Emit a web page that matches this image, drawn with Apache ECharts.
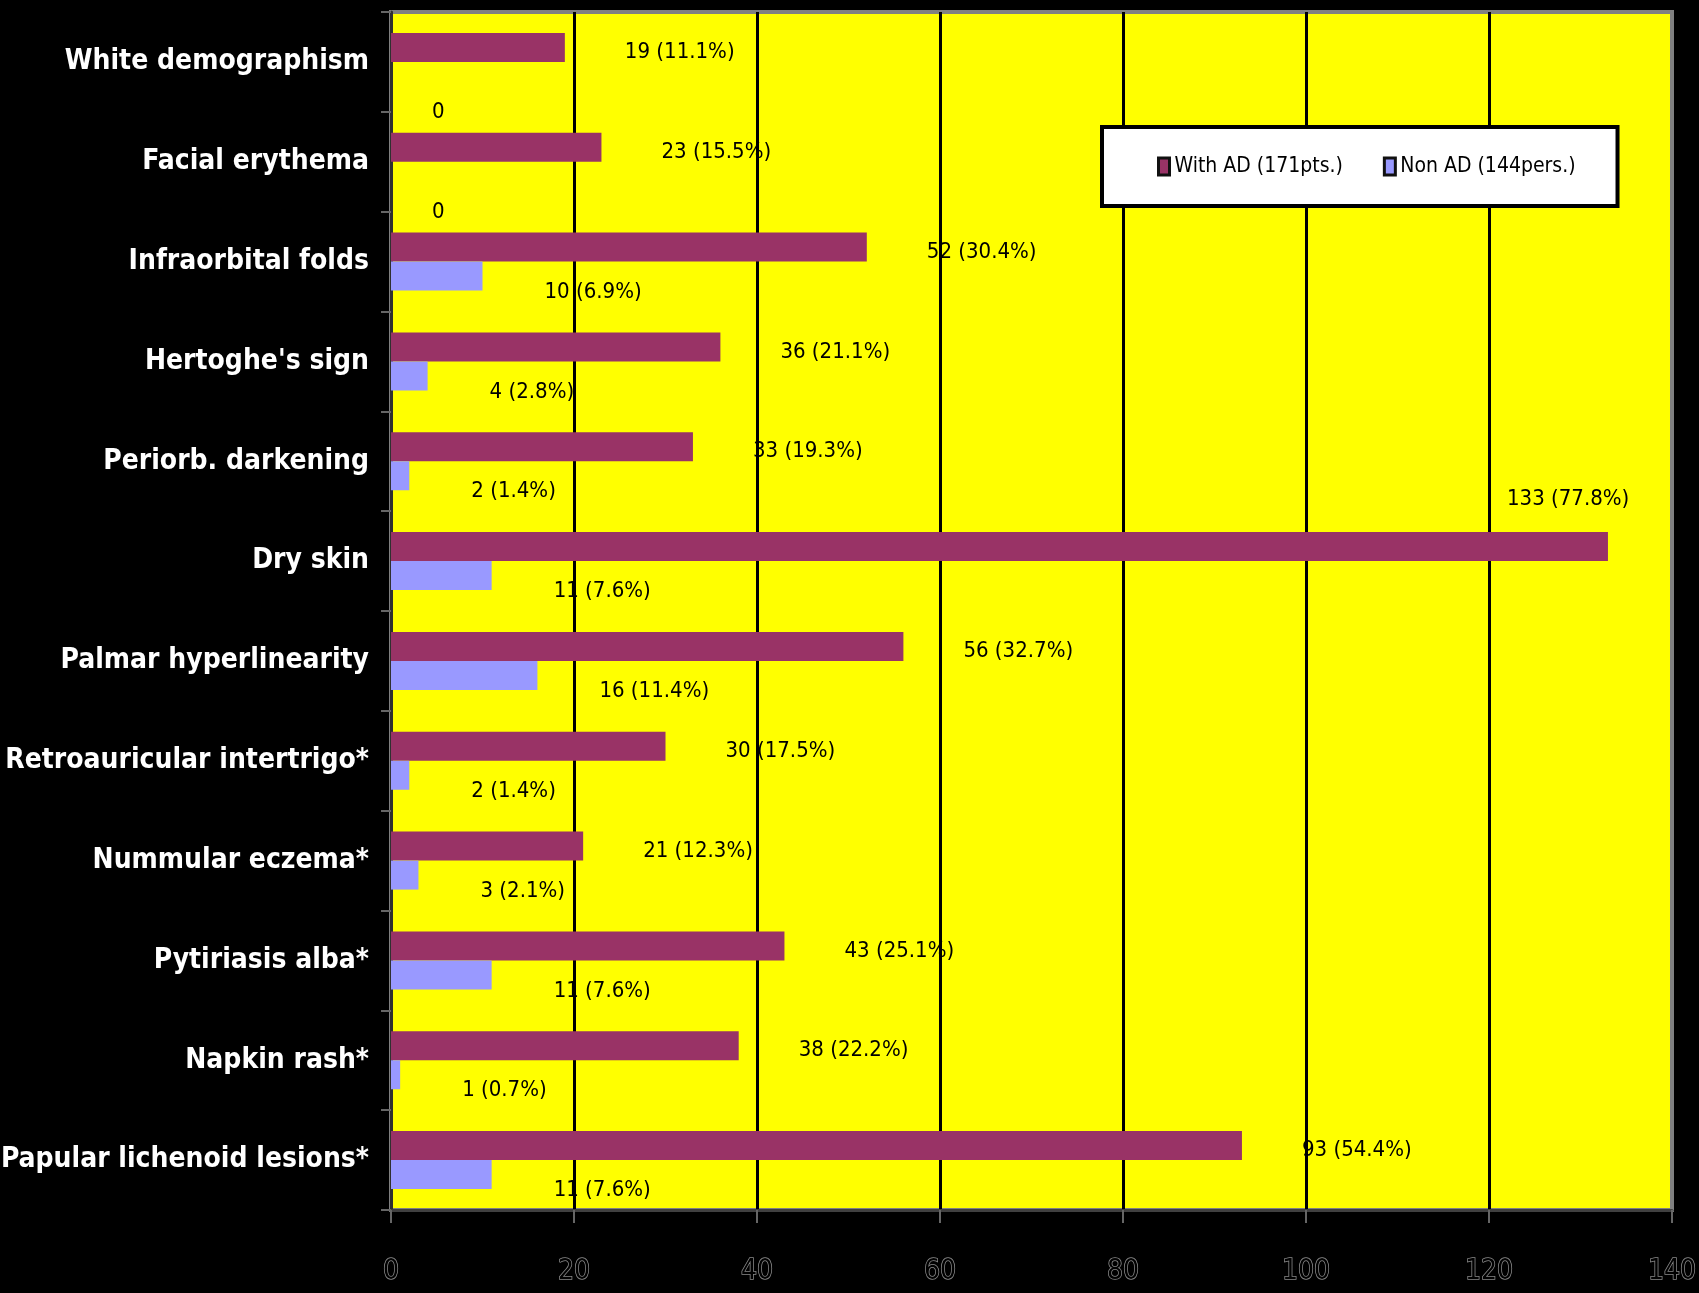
<!DOCTYPE html>
<html><head><meta charset="utf-8">
<script src="https://cdn.jsdelivr.net/npm/echarts@6/dist/echarts.min.js"></script>
<style>html,body{margin:0;padding:0;background:#000;}#c{width:1699px;height:1293px;}</style>
</head><body><div id="c"></div>
<script>
const categories = ["White demographism","Facial erythema","Infraorbital folds","Hertoghe's sign","Periorb. darkening","Dry skin","Palmar hyperlinearity","Retroauricular intertrigo*","Nummular eczema*","Pytiriasis alba*","Napkin rash*","Papular lichenoid lesions*"];
const withAD = [19,23,52,36,33,133,56,30,21,43,38,93];
const withADPct = ["11.1","15.5","30.4","21.1","19.3","77.8","32.7","17.5","12.3","25.1","22.2","54.4"];
const nonAD = [0,0,10,4,2,11,16,2,3,11,1,11];
const nonADPct = [null,null,"6.9","2.8","1.4","7.6","11.4","1.4","2.1","7.6","0.7","7.6"];
const xTicks = [0,20,40,60,80,100,120,140];
const seriesNames = ["With AD (171pts.)","Non AD (144pers.)"];

const NARROW = "'Liberation Sans Narrow','Arial Narrow','DejaVu Sans Condensed',sans-serif";
function lab(v,p){ return p==null ? String(v) : v + " (" + p + "%)"; }

const adData = withAD.map((v,i)=>{
  const d = {value:v};
  if (categories[i]==="Dry skin") d.label = {offset:[-161,-47]};
  return d;
});
const nonData = nonAD.map(v=>{
  const d = {value:v};
  if (v===0) d.label = {offset:[-21,36]};
  return d;
});

const chart = echarts.init(document.getElementById('c'));
chart.setOption({
  backgroundColor:'#000',
  animation:false,
  grid:{left:391,right:27,top:12,bottom:83,outerBoundsMode:'none',containLabel:false,show:true,backgroundColor:'#FFFF00',borderColor:'#808080',borderWidth:4},
  legend:{
    left:1102, top:127, orient:'horizontal', width:700,
    backgroundColor:'#fff', borderColor:'#000', borderWidth:4,
    padding:[29,42,29,55], itemGap:40, itemWidth:11, itemHeight:17, icon:'rect',
    itemStyle:{borderColor:'#111',borderWidth:3},
    textStyle:{fontFamily:NARROW,fontSize:21,color:'#000'},
    data:seriesNames
  },
  xAxis:{
    type:'value', min:xTicks[0], max:xTicks[xTicks.length-1], interval:20,
    axisLine:{show:true,lineStyle:{color:'#404040',width:3}},
    axisTick:{show:true,length:13,lineStyle:{color:'#666',width:2}},
    axisLabel:{margin:48,fontFamily:NARROW,fontSize:28,color:'#000',textBorderColor:'#8a8a8a',textBorderWidth:1.5},
    splitLine:{show:true,showMinLine:false,showMaxLine:false,lineStyle:{color:'#000',width:3}}
  },
  yAxis:{
    type:'category', data:categories, inverse:true,
    axisLine:{show:true,lineStyle:{color:'#303030',width:3}},
    axisTick:{show:true,length:10,lineStyle:{color:'#666',width:2}},
    axisLabel:{margin:22,fontFamily:NARROW,fontWeight:'bold',fontSize:28,color:'#fff'}
  },
  series:[
    {name:seriesNames[0],type:'bar',data:adData,barWidth:29,barGap:'0%',
     itemStyle:{color:'#993366'},
     label:{show:true,position:'right',distance:60,offset:[0,5],fontFamily:NARROW,fontSize:22,color:'#000',
       formatter:p=>lab(withAD[p.dataIndex],withADPct[p.dataIndex])}},
    {name:seriesNames[1],type:'bar',data:nonData,barWidth:29,barGap:'0%',
     itemStyle:{color:'#9999FF'},
     label:{show:true,position:'right',distance:62,offset:[0,16],fontFamily:NARROW,fontSize:22,color:'#000',
       formatter:p=>lab(nonAD[p.dataIndex],nonADPct[p.dataIndex])}}
  ]
});
</script></body></html>
